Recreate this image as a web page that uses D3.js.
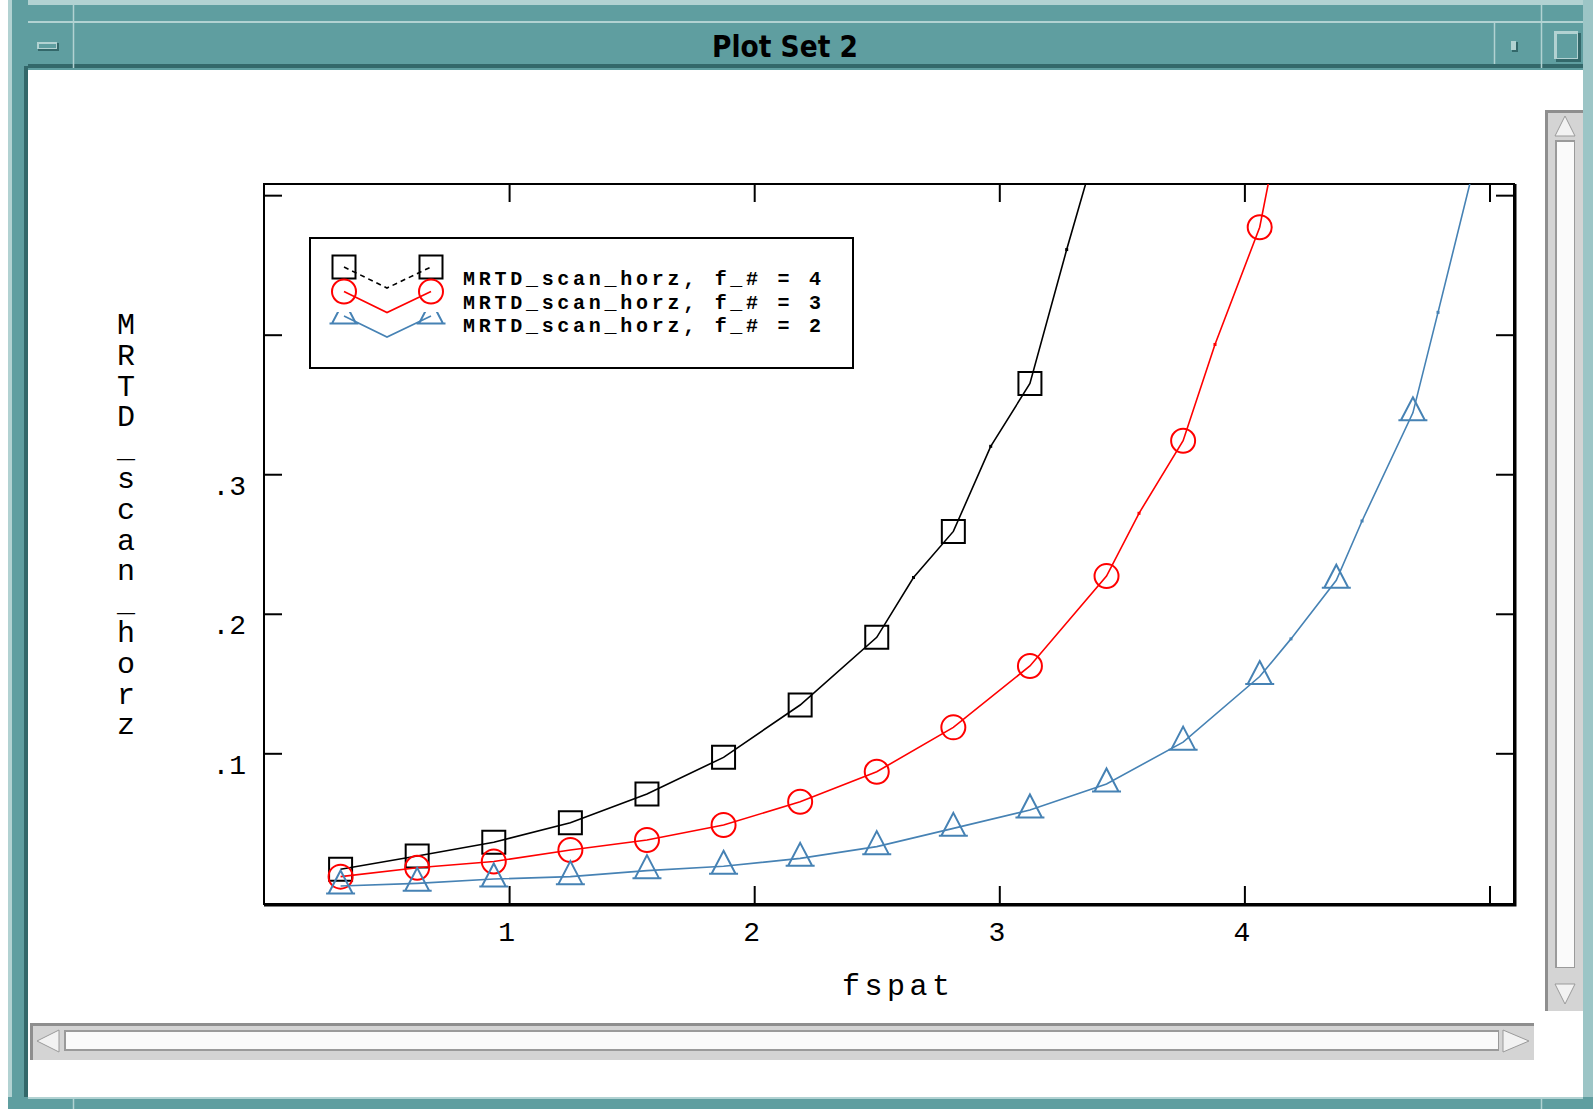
<!DOCTYPE html>
<html>
<head>
<meta charset="utf-8">
<script src="https://cdnjs.cloudflare.com/ajax/libs/d3/7.8.5/d3.min.js"></script>
<style>
  body { margin: 0; background: #fff; overflow: hidden; }
  svg { display: block; }
</style>
</head>
<body>
<svg id="chart" width="1593" height="1109"></svg>
<script>
// spatial frequency of each marker point
const fspat = [0.3125, 0.625, 0.9375, 1.25, 1.5625, 1.875, 2.1875, 2.5, 2.8125, 3.125, 3.4375, 3.75, 4.0625, 4.375, 4.6875, 5.0];

// MRTD values at the marker points, one list per f-number
const mrtdF4 = [0.0169, 0.0264, 0.0362, 0.0503, 0.0708, 0.0971, 0.1346, 0.1831, 0.259, 0.365, 0.56];
const mrtdF3 = [0.0116, 0.018, 0.0225, 0.0307, 0.0379, 0.0486, 0.0653, 0.0868, 0.1186, 0.1626, 0.227, 0.324, 0.477];
const mrtdF2 = [0.0049, 0.0068, 0.0099, 0.0116, 0.0159, 0.019, 0.0247, 0.0331, 0.0462, 0.0594, 0.078, 0.108, 0.155, 0.224, 0.344, 0.565];

// samples between markers (the little dots on the steep part)
const midF4x = [2.65, 2.965, 3.275];
const midF4 = [0.226, 0.320, 0.461];
const midF3x = [3.57, 3.88, 4.2];
const midF3 = [0.272, 0.393, 0.60];
const midF2x = [4.19, 4.48, 4.79];
const midF2 = [0.182, 0.2665, 0.416];

const legendLabels = ['MRTD_scan_horz, f_# = 4', 'MRTD_scan_horz, f_# = 3', 'MRTD_scan_horz, f_# = 2'];
const xTicks = [1, 2, 3, 4, 5];
const xTickLabels = ['1', '2', '3', '4', ''];
const yTicks = [0.1, 0.2, 0.3, 0.4, 0.5];
const yTickLabels = ['.1', '.2', '.3', '', ''];

const teal = '#5f9ea0', tealLight = '#b2d2d2', tealDark = '#33686a';
const mono = '"Liberation Mono", "DejaVu Sans Mono", monospace';

const svg = d3.select('#chart');

function box(x, y, w, h, fill) {
  return svg.append('rect').attr('x', x).attr('y', y).attr('width', w).attr('height', h).attr('fill', fill);
}
function vline(x, y1, y2, color, w) {
  svg.append('line').attr('x1', x).attr('x2', x).attr('y1', y1).attr('y2', y2)
    .attr('stroke', color).attr('stroke-width', w || 1);
}

// ---- window frame ----
box(0, 0, 1593, 1109, '#fff');
box(8, 0, 1585, 70, teal);
box(8, 0, 1585, 5, tealLight);
box(28, 21, 1560, 2, tealLight);
box(28, 64, 1560, 4, tealDark);
box(8, 0, 20, 1109, teal);
box(8, 0, 4, 1109, tealLight);
box(24, 66, 4, 1032, tealDark);
box(1583, 0, 10, 1109, '#9cc5c6');
box(8, 1097, 1585, 12, teal);
box(28, 1097, 1555, 2, tealLight);
vline(73.5, 0, 68, tealLight, 1.5);
vline(1541.5, 0, 68, tealLight, 1.5);
vline(1494.5, 23, 64, tealLight, 1.5);
vline(73.5, 1099, 1109, tealLight, 1.5);
vline(1541.5, 1099, 1109, tealLight, 1.5);

// title bar buttons
box(38, 43, 21, 8, tealDark);
box(37, 42, 20, 7, tealLight);
box(39, 44, 17, 4, teal);
box(1512, 42, 6, 10, tealDark);
box(1511, 41, 5, 9, tealLight);
box(1556, 33, 25, 29, tealDark);
box(1554, 31, 24, 28, tealLight);
box(1557, 34, 20, 24, teal);

svg.append('text')
  .attr('x', 785).attr('y', 57)
  .attr('text-anchor', 'middle')
  .attr('textLength', 146).attr('lengthAdjust', 'spacingAndGlyphs')
  .style('font-family', '"Liberation Sans Narrow", "DejaVu Sans Condensed", "Liberation Sans", sans-serif')
  .style('font-weight', 'bold').style('font-size', '30px')
  .attr('fill', '#000')
  .text('Plot Set 2');

// ---- scrollbars ----
box(1545, 110, 38, 901, '#8e8e8e');
box(1548, 113, 35, 898, '#d4d4d4');
box(1555, 140, 20, 828, '#9a9a9a');
box(1557, 142, 17, 825, '#fafafa');
svg.append('path').attr('d', 'M1565,116L1575,136L1555,136Z').attr('fill', '#f2f2f2').attr('stroke', '#9a9a9a');
svg.append('path').attr('d', 'M1565,1004L1575,984L1555,984Z').attr('fill', '#f2f2f2').attr('stroke', '#9a9a9a');

box(30, 1023, 1504, 37, '#8e8e8e');
box(33, 1026, 1501, 34, '#d4d4d4');
box(64, 1030, 1435, 21, '#9a9a9a');
box(66, 1032, 1432, 17, '#fafafa');
svg.append('path').attr('d', 'M37,1041L59,1030L59,1052Z').attr('fill', '#f2f2f2').attr('stroke', '#9a9a9a');
svg.append('path').attr('d', 'M1529,1041L1503,1030L1503,1052Z').attr('fill', '#f2f2f2').attr('stroke', '#9a9a9a');

// ---- plot ----
const plot = { left: 264, right: 1514, top: 184, bottom: 904 };
const x = d3.scaleLinear().domain([0, 5.1]).range([plot.left, plot.right]);
const y = d3.scaleLinear().domain([-0.008, 0.508]).range([plot.bottom, plot.top]);

svg.append('clipPath').attr('id', 'plotclip')
  .append('rect')
  .attr('x', plot.left).attr('y', plot.top)
  .attr('width', plot.right - plot.left).attr('height', plot.bottom - plot.top);

function styleAxis(g) {
  g.select('.domain').remove();
  g.selectAll('.tick line').attr('stroke', '#000').attr('stroke-width', 2);
  g.selectAll('.tick text').attr('fill', '#000')
    .style('font-family', mono).style('font-size', '28px');
}

svg.append('g')
  .attr('transform', `translate(0,${plot.bottom})`)
  .call(d3.axisBottom(x).tickValues(xTicks).tickSize(-18).tickPadding(17)
    .tickFormat((d, i) => xTickLabels[i]))
  .call(styleAxis)
  .selectAll('.tick text').attr('dx', -3);

svg.append('g')
  .attr('transform', `translate(0,${plot.top})`)
  .call(d3.axisTop(x).tickValues(xTicks).tickSize(-18).tickFormat(''))
  .call(styleAxis);

svg.append('g')
  .attr('transform', `translate(${plot.left},0)`)
  .call(d3.axisLeft(y).tickValues(yTicks).tickSize(-18).tickPadding(18)
    .tickFormat((d, i) => yTickLabels[i]))
  .call(styleAxis)
  .selectAll('.tick text').attr('y', 11);

svg.append('g')
  .attr('transform', `translate(${plot.right},0)`)
  .call(d3.axisRight(y).tickValues(yTicks).tickSize(-18).tickFormat(''))
  .call(styleAxis);

svg.append('rect')
  .attr('x', plot.left).attr('y', plot.top)
  .attr('width', plot.right - plot.left).attr('height', plot.bottom - plot.top)
  .attr('fill', 'none').attr('stroke', '#000').attr('stroke-width', 2);
svg.append('path')
  .attr('d', `M${plot.left},${plot.bottom + 1}H${plot.right + 1}V${plot.top}`)
  .attr('fill', 'none').attr('stroke', '#000').attr('stroke-width', 3);

// axis titles
svg.append('text')
  .attr('x', 896).attr('y', 995)
  .attr('text-anchor', 'middle')
  .attr('textLength', 108).attr('lengthAdjust', 'spacing')
  .style('font-family', mono).style('font-size', '30px')
  .text('fspat');

svg.append('g').selectAll('text')
  .data('MRTD_scan_horz'.split(''))
  .join('text')
  .attr('x', 126)
  .attr('y', (d, i) => 334 + i * 30.8)
  .attr('text-anchor', 'middle')
  .style('font-family', mono).style('font-size', '30px')
  .text(d => d);

// ---- series ----
const squarePath = 'M-11.5,-11.5H11.5V11.5H-11.5Z';
const circlePath = d3.symbol(d3.symbolCircle, Math.PI * 12 * 12)();
const trianglePath = 'M0,-15.5L12,7.5H-12Z M-14.5,7.5H14.5';

const series = [
  { values: mrtdF4, midX: midF4x, mid: midF4, color: '#000000', shape: squarePath },
  { values: mrtdF3, midX: midF3x, mid: midF3, color: '#ff0000', shape: circlePath },
  { values: mrtdF2, midX: midF2x, mid: midF2, color: '#4682b4', shape: trianglePath }
];

const line = d3.line().x(d => x(d[0])).y(d => y(d[1]));
const plotG = svg.append('g').attr('clip-path', 'url(#plotclip)');

series.forEach(s => {
  const marks = s.values.map((v, i) => [fspat[i], v]);
  const mids = s.mid.map((v, i) => [s.midX[i], v]);
  const pts = marks.concat(mids).sort((a, b) => a[0] - b[0]);

  plotG.append('path')
    .datum(pts)
    .attr('d', line)
    .attr('fill', 'none')
    .attr('stroke', s.color)
    .attr('stroke-width', 1.6);

  plotG.selectAll(null)
    .data(mids)
    .join('rect')
    .attr('x', d => x(d[0]) - 1.5).attr('y', d => y(d[1]) - 1.5)
    .attr('width', 3).attr('height', 3)
    .attr('fill', s.color);

  plotG.selectAll(null)
    .data(marks)
    .join('path')
    .attr('transform', d => `translate(${x(d[0])},${y(d[1])})`)
    .attr('d', s.shape)
    .attr('fill', 'none')
    .attr('stroke', s.color)
    .attr('stroke-width', 2);
});

// ---- legend ----
svg.append('rect')
  .attr('x', 310).attr('y', 238).attr('width', 543).attr('height', 130)
  .attr('fill', '#fff').attr('stroke', '#000').attr('stroke-width', 2);

svg.append('clipPath').attr('id', 'legclip')
  .append('rect').attr('x', 320).attr('y', 248).attr('width', 130).attr('height', 64);
svg.append('clipPath').attr('id', 'legclipLow')
  .append('rect').attr('x', 320).attr('y', 312).attr('width', 130).attr('height', 40);

series.forEach((s, i) => {
  const sy = 267 + i * 24.5;
  const g = svg.append('g');
  g.append('path')
    .attr('d', `M344,${sy}L387,${sy + 21}L431,${sy}`)
    .attr('fill', 'none')
    .attr('stroke', s.color)
    .attr('stroke-width', 1.6)
    .attr('stroke-dasharray', i === 0 ? '5,4' : null);
  g.append('g')
    .attr('clip-path', i === 2 ? 'url(#legclipLow)' : 'url(#legclip)')
    .selectAll('path')
    .data([344, 431])
    .join('path')
    .attr('transform', d => `translate(${d},${sy})`)
    .attr('d', s.shape)
    .attr('fill', 'none')
    .attr('stroke', s.color)
    .attr('stroke-width', 2);
  svg.append('text')
    .attr('x', 463).attr('y', 285 + i * 23.5)
    .attr('textLength', 358).attr('lengthAdjust', 'spacing')
    .style('font-family', mono).style('font-size', '20px').style('font-weight', 'bold')
    .text(legendLabels[i]);
});
</script>
</body>
</html>
